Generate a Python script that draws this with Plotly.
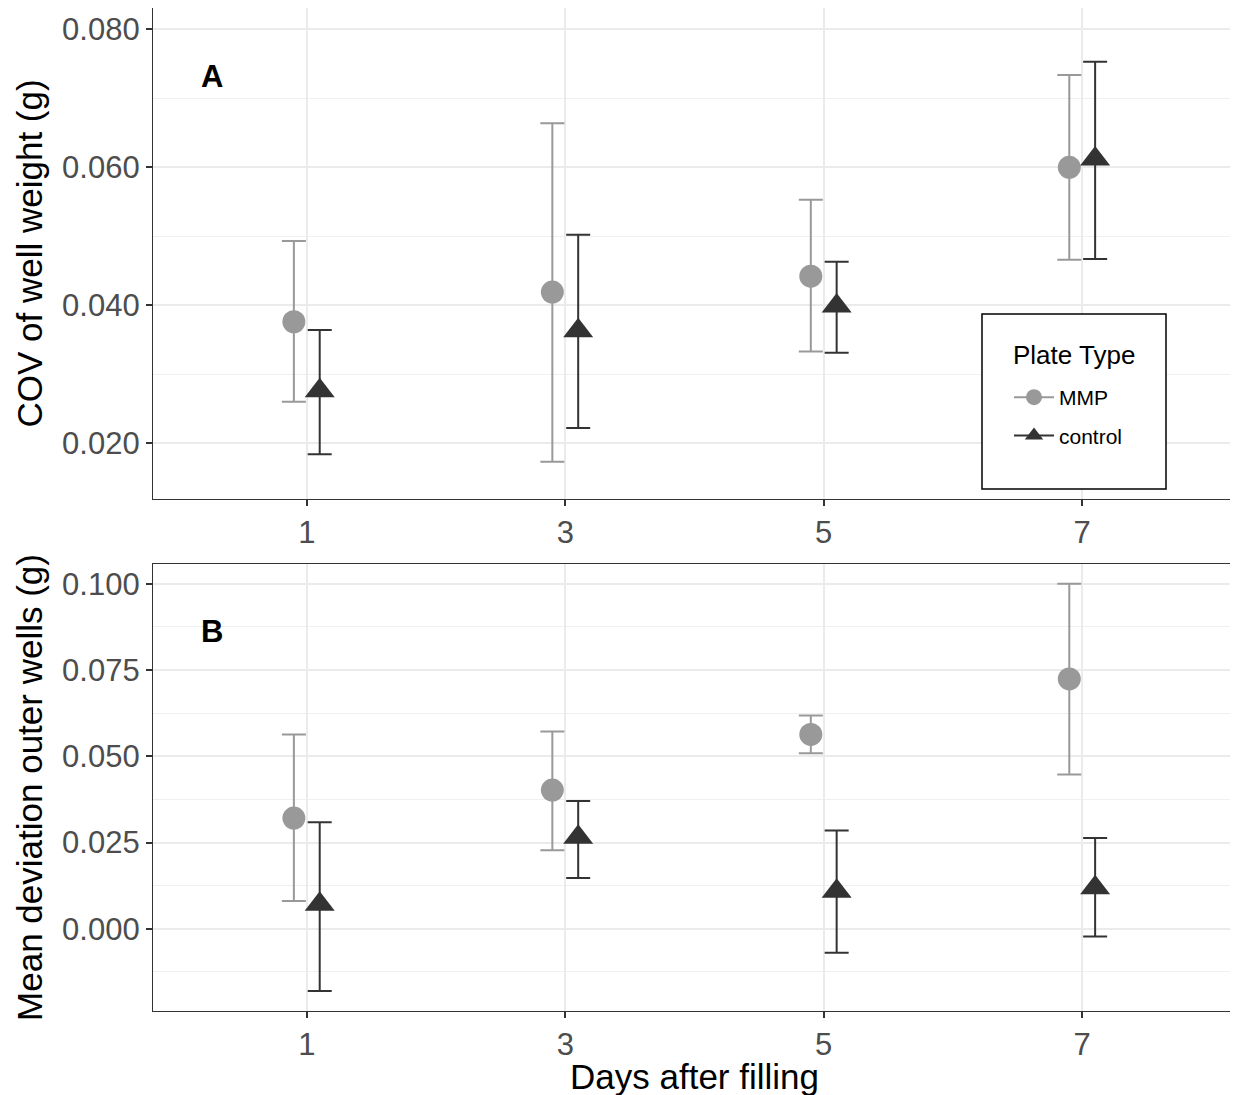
import plotly.graph_objects as go

days = [1, 3, 5, 7]
groups = ["MMP", "control"]

# Panel A: COV of well weight (g)
a_mmp_mean = [0.0376, 0.0419, 0.0442, 0.0600]
a_mmp_low = [0.0260, 0.0173, 0.0333, 0.0466]
a_mmp_high = [0.0493, 0.0664, 0.0553, 0.0734]
a_ctl_mean = [0.0276, 0.0363, 0.0399, 0.0612]
a_ctl_low = [0.0184, 0.0222, 0.0331, 0.0467]
a_ctl_high = [0.0364, 0.0502, 0.0463, 0.0753]

# Panel B: Mean deviation outer wells (g)
b_mmp_mean = [0.0321, 0.0402, 0.0563, 0.0724]
b_mmp_low = [0.0081, 0.0228, 0.0509, 0.0447]
b_mmp_high = [0.0563, 0.0572, 0.0618, 0.1000]
b_ctl_mean = [0.0071, 0.0265, 0.0109, 0.0119]
b_ctl_low = [-0.0180, 0.0147, -0.0069, -0.0022]
b_ctl_high = [0.0309, 0.0370, 0.0285, 0.0263]

a_ticks = [0.020, 0.040, 0.060, 0.080]
b_ticks = [0.000, 0.025, 0.050, 0.075, 0.100]

COL = {"MMP": "#999999", "control": "#333333"}
SYM = {"MMP": "circle", "control": "triangle-up"}
SIZE = {"MMP": 23, "control": 26}
DODGE = {"MMP": -0.1, "control": 0.1}
FONT = "Liberation Sans, Arial"

# plot-area pixel geometry (page coords) for paper conversion of legend box
PX_L, PX_R, PX_T, PX_B = 152, 1235, 7, 1010
def px(x):
    return (x - PX_L) / (PX_R - PX_L)
def py(y):
    return (PX_B - y) / (PX_B - PX_T)

fig = go.Figure()

def add_series(name, mean, low, high, xa, ya):
    xs = [d + DODGE[name] for d in days]
    fig.add_trace(go.Scatter(
        x=xs, y=mean, mode="markers", name=name, showlegend=False,
        xaxis=xa, yaxis=ya,
        marker=dict(color=COL[name], symbol=SYM[name], size=SIZE[name], line=dict(width=0)),
        error_y=dict(type="data", symmetric=False,
                     array=[h - m for h, m in zip(high, mean)],
                     arrayminus=[m - l for m, l in zip(mean, low)],
                     color=COL[name], thickness=2, width=12),
    ))

add_series("MMP", a_mmp_mean, a_mmp_low, a_mmp_high, "x", "y")
add_series("control", a_ctl_mean, a_ctl_low, a_ctl_high, "x", "y")
add_series("MMP", b_mmp_mean, b_mmp_low, b_mmp_high, "x2", "y2")
add_series("control", b_ctl_mean, b_ctl_low, b_ctl_high, "x2", "y2")

# legend entries (marker + errorbar key line)
for g in groups:
    fig.add_trace(go.Scatter(
        x=[None], y=[None], mode="lines+markers", name=g, legendgroup=g,
        xaxis="x", yaxis="y",
        line=dict(color=COL[g], width=2),
        marker=dict(color=COL[g], symbol=SYM[g], size=SIZE[g]),
    ))

grid = "#ebebeb"
tickfont = dict(family=FONT, size=31, color="#4d4d4d")
titlefont = dict(family=FONT, size=35, color="black")

xcommon = dict(range=[-0.19, 8.19], tickvals=days, ticktext=[str(d) for d in days],
               showgrid=True, gridcolor=grid, gridwidth=2, zeroline=False,
               showline=True, linecolor="#333333", linewidth=1.3, mirror=True,
               ticks="outside", ticklen=6, tickwidth=1.5, tickcolor="#333333",
               tickfont=tickfont)

ycommon = dict(showgrid=True, gridcolor=grid, gridwidth=2, zeroline=False,
               showline=True, linecolor="#333333", linewidth=1.3, mirror=True,
               ticks="outside", ticklen=6, tickwidth=1.5, tickcolor="#333333",
               tickfont=tickfont, tickformat=".3f")

fig.update_layout(
    width=1231, height=1088,
    margin=dict(l=145, r=3, t=0, b=85),
    paper_bgcolor="white", plot_bgcolor="white",
    font=dict(family=FONT, color="black"),
    xaxis=dict(domain=[0, 1], anchor="y", **xcommon),
    xaxis2=dict(domain=[0, 1], anchor="y2",
                title=dict(text="Days after filling", font=titlefont, standoff=0),
                **xcommon),
    yaxis=dict(domain=[0.5105, 1], anchor="x", range=[0.0119, 0.0831],
               tickvals=a_ticks,
               minor=dict(dtick=0.01, tick0=0, showgrid=True, gridcolor="#f0f0f0", gridwidth=1.3),
               title=dict(text="COV of well weight (g)", font=titlefont, standoff=8),
               **ycommon),
    yaxis2=dict(domain=[0, 0.4457], anchor="x2", range=[-0.0238, 0.1057],
                tickvals=b_ticks,
                minor=dict(dtick=0.0125, tick0=0, showgrid=True, gridcolor="#f0f0f0", gridwidth=1.3),
                title=dict(text="Mean deviation outer wells (g)", font=titlefont, standoff=8),
                **ycommon),
    legend=dict(x=px(1008), y=py(376), xanchor="left", yanchor="top",
                bgcolor="rgba(0,0,0,0)", borderwidth=0,
                font=dict(family=FONT, size=21, color="black"),
                indentation=0, tracegroupgap=8, traceorder="grouped", itemwidth=40),
    shapes=[dict(type="rect", xref="paper", yref="paper",
                 x0=px(981), x1=px(1165), y0=py(488), y1=py(313),
                 line=dict(color="black", width=1.5), fillcolor="white", layer="above")],
    annotations=[
        dict(text="<b>A</b>", x=0.27, y=0.0732, xref="x", yref="y", showarrow=False,
             font=dict(family=FONT, size=31, color="black")),
        dict(text="<b>B</b>", x=0.27, y=0.0862, xref="x2", yref="y2", showarrow=False,
             font=dict(family=FONT, size=31, color="black")),
        dict(text="Plate Type", x=px(1010), y=py(354), xref="paper", yref="paper",
             xanchor="left", yanchor="middle", showarrow=False,
             font=dict(family=FONT, size=26, color="black")),
    ],
)

fig.write_html("out.html")
